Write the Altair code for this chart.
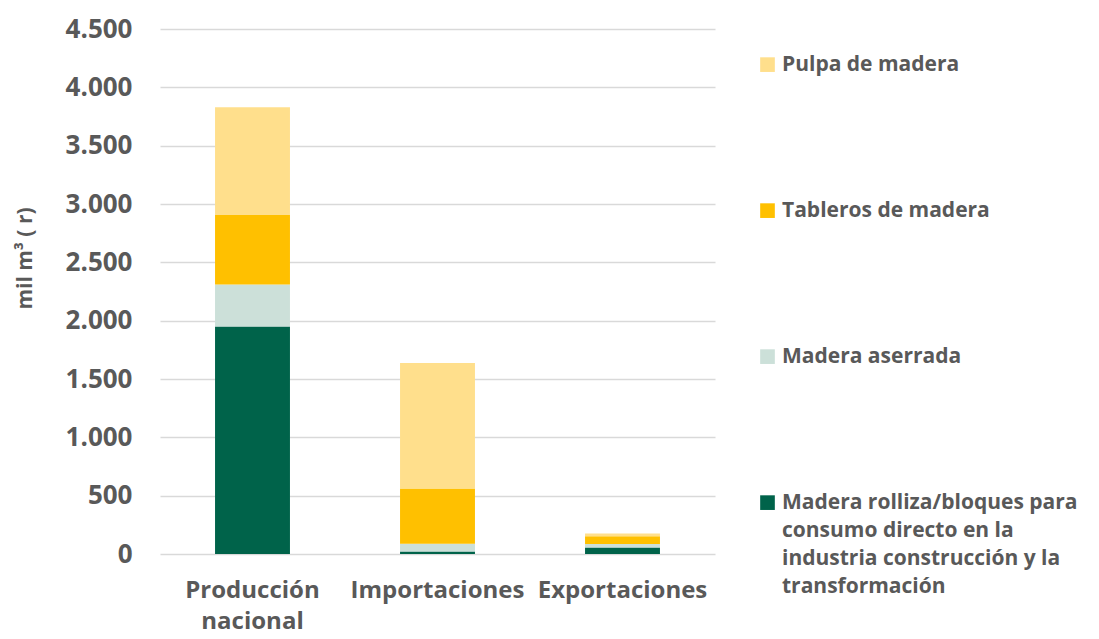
import altair as alt
import pandas as pd

categorias = ["Producción nacional", "Importaciones", "Exportaciones"]
series = [
    "Madera rolliza/bloques para consumo directo en la industria construcción y la transformación",
    "Madera aserrada",
    "Tableros de madera",
    "Pulpa de madera",
]
colores = ["#00634A", "#CCE0D9", "#FFC000", "#FFDF8C"]
rolliza = [1950, 22, 55]
aserrada = [360, 65, 30]
tableros = [595, 475, 68]
pulpa = [925, 1075, 23]
valores_eje = [0, 500, 1000, 1500, 2000, 2500, 3000, 3500, 4000, 4500]

filas = []
for s_i, (nombre, vals) in enumerate(zip(series, [rolliza, aserrada, tableros, pulpa])):
    for c, v in zip(categorias, vals):
        filas.append({"categoria": c, "serie": nombre, "valor": v, "orden": s_i})
df = pd.DataFrame(filas)

FONT = "Open Sans"
GRAY = "#595959"

legend_expr = (
    "datum.label == '" + series[0] + "' ? "
    "['Madera rolliza/bloques para', 'consumo directo en la', "
    "'industria construcción y la', 'transformación'] : datum.label"
)

chart = alt.Chart(df).mark_bar().encode(
    x=alt.X(
        "categoria:N",
        sort=categorias,
        scale=alt.Scale(paddingInner=0.595, paddingOuter=0.2975),
        axis=alt.Axis(
            title=None,
            labelAngle=0,
            labelFont=FONT,
            labelFontSize=24,
            labelFontWeight="bold",
            labelColor=GRAY,
            labelPadding=24,
            labelLineHeight=31,
            labelExpr="datum.label == 'Producción nacional' ? ['Producción', 'nacional'] : datum.label",
            ticks=False,
            domain=False,
        ),
    ),
    y=alt.Y(
        "valor:Q",
        stack="zero",
        scale=alt.Scale(domain=[0, 4500], nice=False),
        axis=alt.Axis(
            values=valores_eje,
            title="mil m³ ( r)",
            titleFont=FONT,
            titleFontSize=21,
            titleFontWeight="bold",
            titleColor=GRAY,
            titleAngle=270,
            titleX=-135,
            titleY=229,
            titleAlign="center",
            titleBaseline="middle",
            labelFont=FONT,
            labelFontSize=26,
            labelFontWeight="bold",
            labelColor=GRAY,
            labelPadding=28,
            labelExpr="replace(format(datum.value, ','), ',', '.')",
            ticks=False,
            domain=False,
            gridColor="#D9D9D9",
            gridWidth=1.3,
        ),
    ),
    color=alt.Color(
        "serie:N",
        scale=alt.Scale(domain=series[::-1], range=colores[::-1]),
        legend=alt.Legend(
            title=None,
            orient="none",
            legendX=597,
            legendY=31,
            symbolType="M-1,-1.8H1V0.2H-1Z",
            symbolSize=215,
            symbolStrokeWidth=0,
            labelFont=FONT,
            labelFontSize=21,
            labelFontWeight="bold",
            labelColor=GRAY,
            labelBaseline="alphabetic",
            labelLimit=400,
            rowPadding=124,
            labelExpr=legend_expr,
        ),
    ),
    order=alt.Order("orden:Q", sort="ascending"),
).properties(
    width=555,
    height=525,
    autosize=alt.AutoSizeParams(type="none"),
    padding={"left": 152, "top": 21, "right": 376, "bottom": 77},
).configure(
    style={"guide-label": {"lineHeight": 28}}
).configure_view(stroke=None)

chart.save("out.html", embed_options={"renderer": "svg", "actions": False})
